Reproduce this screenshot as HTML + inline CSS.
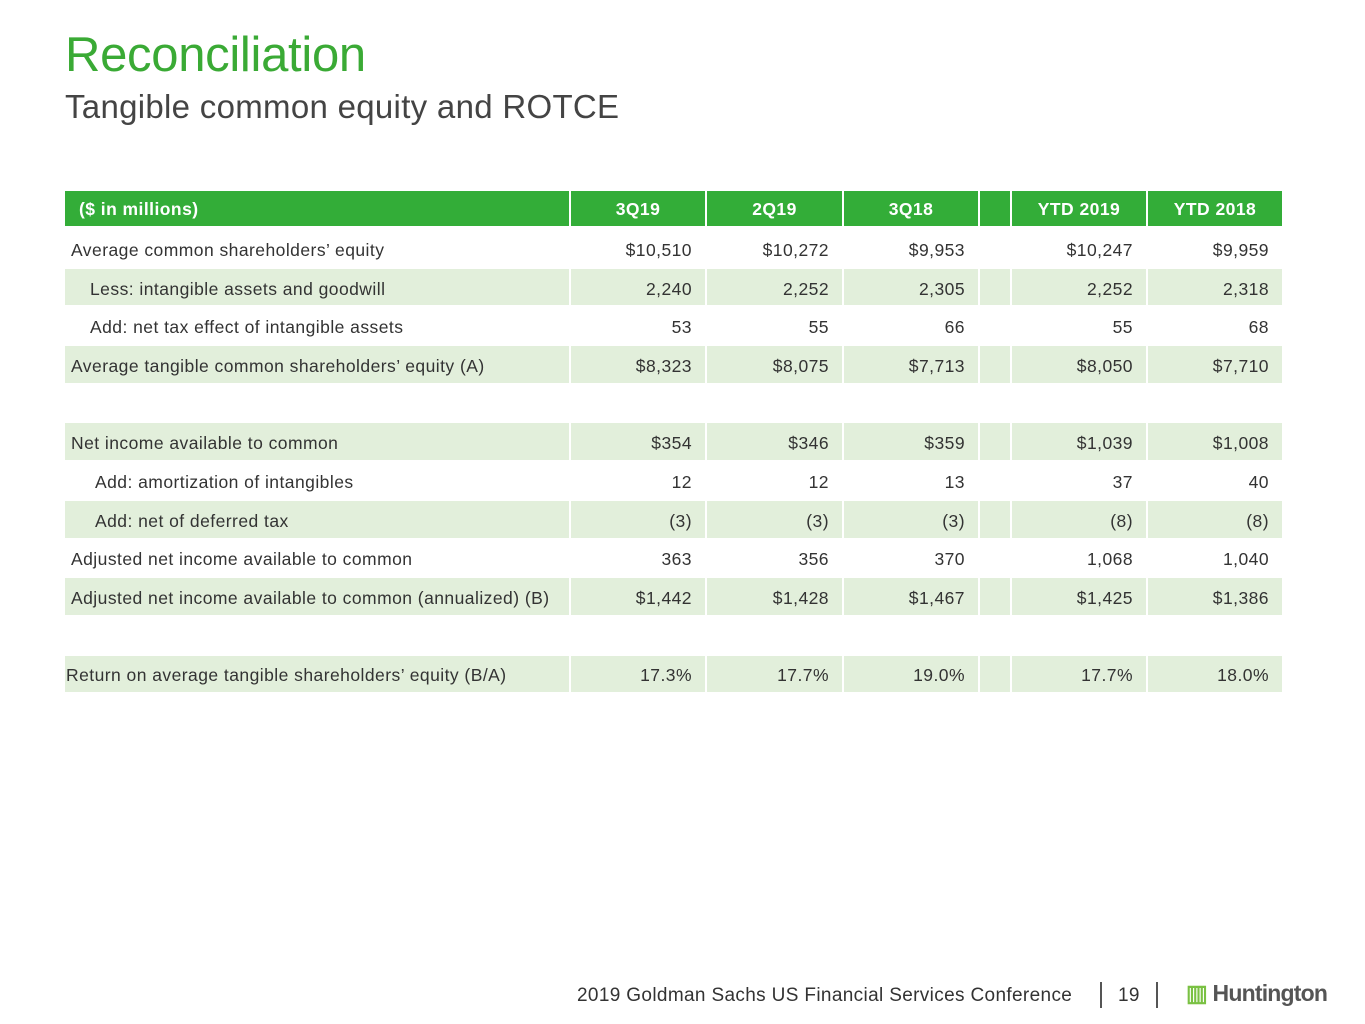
<!DOCTYPE html>
<html><head><meta charset="utf-8"><style>
body{margin:0;width:1365px;height:1024px;background:#fff;font-family:"Liberation Sans",sans-serif;position:relative;overflow:hidden}
.t1{position:absolute;left:65px;top:27px;font-size:49px;color:#3aaa35;letter-spacing:-0.3px}
.t2{position:absolute;left:65px;top:88px;font-size:33px;color:#444;letter-spacing:0.3px}
table{position:absolute;left:65px;top:191px;border-collapse:collapse;table-layout:fixed;font-size:17.5px;letter-spacing:0.45px;color:#333}
td{height:32.7px;padding:4px 13px 0 0;border-right:2px solid #fff;border-bottom:2px solid #fff;white-space:nowrap;text-align:right}
td:first-child{text-align:left;padding-left:6px;padding-right:0}
tr.h td{background:#33ad38;color:#fff;font-weight:bold;text-align:center;height:33px;padding:2px 0 0 0;border-bottom:4px solid #fff}
tr.h td:first-child{text-align:left;padding-left:14px}
tr.g td{background:#e2efdb}
td.gap{padding:0}
.i1{padding-left:25px!important}.i2{padding-left:30px!important}
.foot{position:absolute;top:985px;left:577px;font-size:19px;color:#333;letter-spacing:0.35px}
.bar{position:absolute;top:982px;width:1.5px;height:26px;background:#555}
.logo{position:absolute;left:1186px;top:980px;font-size:23px;font-weight:bold;color:#555;letter-spacing:-0.8px}
.logo span{color:#7ac143}
</style></head><body>
<div class="t1">Reconciliation</div>
<div class="t2">Tangible common equity and ROTCE</div>
<table>
<colgroup><col style="width:505px"><col style="width:136px"><col style="width:137px"><col style="width:136px"><col style="width:32px"><col style="width:136px"><col style="width:136px"></colgroup>
<tr class="h"><td>($ in millions)</td><td>3Q19</td><td>2Q19</td><td>3Q18</td><td></td><td>YTD 2019</td><td>YTD 2018</td></tr>
<tr><td>Average common shareholders’ equity</td><td>$10,510</td><td>$10,272</td><td>$9,953</td><td class="gap"></td><td>$10,247</td><td>$9,959</td></tr>
<tr class="g"><td class="i1">Less: intangible assets and goodwill</td><td>2,240</td><td>2,252</td><td>2,305</td><td class="gap"></td><td>2,252</td><td>2,318</td></tr>
<tr><td class="i1">Add: net tax effect of intangible assets</td><td>53</td><td>55</td><td>66</td><td class="gap"></td><td>55</td><td>68</td></tr>
<tr class="g"><td>Average tangible common shareholders’ equity (A)</td><td>$8,323</td><td>$8,075</td><td>$7,713</td><td class="gap"></td><td>$8,050</td><td>$7,710</td></tr>
<tr><td></td><td></td><td></td><td></td><td class="gap"></td><td></td><td></td></tr>
<tr class="g"><td>Net income available to common</td><td>$354</td><td>$346</td><td>$359</td><td class="gap"></td><td>$1,039</td><td>$1,008</td></tr>
<tr><td class="i2">Add: amortization of intangibles</td><td>12</td><td>12</td><td>13</td><td class="gap"></td><td>37</td><td>40</td></tr>
<tr class="g"><td class="i2">Add: net of deferred tax</td><td>(3)</td><td>(3)</td><td>(3)</td><td class="gap"></td><td>(8)</td><td>(8)</td></tr>
<tr><td>Adjusted net income available to common</td><td>363</td><td>356</td><td>370</td><td class="gap"></td><td>1,068</td><td>1,040</td></tr>
<tr class="g"><td>Adjusted net income available to common (annualized) (B)</td><td>$1,442</td><td>$1,428</td><td>$1,467</td><td class="gap"></td><td>$1,425</td><td>$1,386</td></tr>
<tr><td></td><td></td><td></td><td></td><td class="gap"></td><td></td><td></td></tr>
<tr class="g"><td style="padding-left:1px">Return on average tangible shareholders’ equity (B/A)</td><td>17.3%</td><td>17.7%</td><td>19.0%</td><td class="gap"></td><td>17.7%</td><td>18.0%</td></tr>
</table>
<div class="foot">2019 Goldman Sachs US Financial Services Conference</div>
<div class="bar" style="left:1100px"></div>
<div class="foot" style="left:1118px">19</div>
<div class="bar" style="left:1156px"></div>
<div class="logo"><span>▥</span> Huntington</div>
</body></html>
